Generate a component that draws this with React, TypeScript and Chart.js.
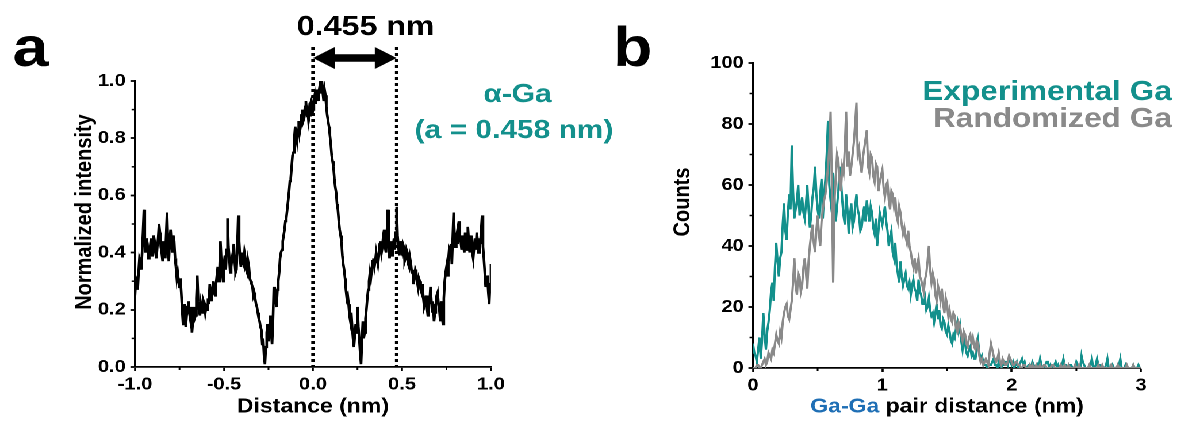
import { useEffect, useRef } from 'react';
import { Chart, registerables } from 'chart.js';

Chart.register(...registerables);

// ---- style constants ----
const STRETCH = 1.15;
const BASE_W = 1180 / STRETCH;
const FONT = '"Liberation Sans", Arial, Helvetica, sans-serif';
const TEAL = '#13908c';
const GRAY = '#8a8a8a';
const BLUE = '#1f6fb5';

// ---- panel a data: normalized intensity line profile ----
const PROFILE_X_START = -1;
const PROFILE_X_STEP = 0.005;
const PROFILE_Y = [
  0.25, 0.31, 0.30, 0.27, 0.33, 0.38, 0.37, 0.34, 0.40, 0.47, 0.55, 0.43, 0.40, 0.45, 0.43, 0.38, 0.39, 0.42, 0.45, 0.39,
  0.41, 0.46, 0.44, 0.40, 0.38, 0.42, 0.45, 0.50, 0.47, 0.42, 0.40, 0.37, 0.44, 0.41, 0.38, 0.46, 0.54, 0.43, 0.37, 0.44,
  0.48, 0.43, 0.40, 0.46, 0.44, 0.38, 0.35, 0.31, 0.33, 0.30, 0.28, 0.31, 0.26, 0.20, 0.15, 0.19, 0.22, 0.14, 0.18, 0.21,
  0.23, 0.19, 0.17, 0.21, 0.12, 0.16, 0.21, 0.17, 0.18, 0.24, 0.32, 0.23, 0.20, 0.18, 0.22, 0.20, 0.19, 0.23, 0.22, 0.19,
  0.21, 0.20, 0.24, 0.22, 0.29, 0.25, 0.23, 0.27, 0.30, 0.26, 0.25, 0.29, 0.32, 0.35, 0.30, 0.34, 0.44, 0.37, 0.33, 0.30,
  0.36, 0.39, 0.34, 0.41, 0.52, 0.42, 0.38, 0.33, 0.35, 0.38, 0.40, 0.43, 0.37, 0.33, 0.34, 0.42, 0.53, 0.44, 0.38, 0.35,
  0.40, 0.37, 0.36, 0.40, 0.38, 0.34, 0.33, 0.37, 0.35, 0.31, 0.30, 0.29, 0.28, 0.25, 0.26, 0.24, 0.22, 0.21, 0.19, 0.17,
  0.16, 0.14, 0.13, 0.08, 0.10, 0.04, 0.01, 0.07, 0.12, 0.15, 0.09, 0.13, 0.18, 0.12, 0.08, 0.16, 0.28, 0.24, 0.23, 0.21,
  0.27, 0.30, 0.33, 0.38, 0.40, 0.41, 0.44, 0.46, 0.48, 0.51, 0.52, 0.55, 0.58, 0.61, 0.65, 0.66, 0.70, 0.74, 0.75, 0.80,
  0.84, 0.81, 0.79, 0.83, 0.86, 0.82, 0.84, 0.88, 0.90, 0.86, 0.87, 0.91, 0.93, 0.89, 0.90, 0.86, 0.88, 0.92, 0.93, 0.88,
  0.90, 0.93, 0.95, 0.92, 0.97, 0.95, 0.93, 0.97, 0.99, 0.96, 1.00, 0.96, 0.93, 0.97, 0.95, 0.91, 0.88, 0.86, 0.84, 0.81,
  0.78, 0.74, 0.72, 0.70, 0.66, 0.63, 0.61, 0.57, 0.55, 0.51, 0.48, 0.46, 0.44, 0.39, 0.36, 0.34, 0.31, 0.27, 0.24, 0.25,
  0.22, 0.18, 0.16, 0.19, 0.14, 0.10, 0.07, 0.11, 0.15, 0.12, 0.21, 0.14, 0.10, 0.05, 0.01, 0.09, 0.16, 0.10, 0.12, 0.17,
  0.20, 0.24, 0.27, 0.30, 0.33, 0.31, 0.34, 0.37, 0.38, 0.35, 0.37, 0.40, 0.40, 0.36, 0.39, 0.43, 0.44, 0.40, 0.42, 0.46,
  0.48, 0.42, 0.40, 0.46, 0.55, 0.45, 0.38, 0.41, 0.44, 0.39, 0.42, 0.45, 0.41, 0.47, 0.56, 0.46, 0.42, 0.39, 0.44, 0.41,
  0.40, 0.43, 0.42, 0.37, 0.38, 0.41, 0.40, 0.36, 0.35, 0.38, 0.36, 0.33, 0.34, 0.29, 0.31, 0.34, 0.33, 0.30, 0.28, 0.31,
  0.30, 0.27, 0.26, 0.29, 0.24, 0.21, 0.22, 0.25, 0.21, 0.18, 0.25, 0.22, 0.28, 0.23, 0.19, 0.22, 0.16, 0.19, 0.22, 0.25,
  0.26, 0.22, 0.20, 0.16, 0.23, 0.18, 0.15, 0.24, 0.30, 0.33, 0.35, 0.32, 0.37, 0.41, 0.40, 0.43, 0.36, 0.45, 0.54, 0.46,
  0.42, 0.45, 0.47, 0.43, 0.51, 0.46, 0.44, 0.41, 0.46, 0.43, 0.40, 0.47, 0.44, 0.41, 0.49, 0.44, 0.40, 0.46, 0.43, 0.40,
  0.38, 0.42, 0.45, 0.41, 0.47, 0.44, 0.40, 0.45, 0.43, 0.48, 0.53, 0.42, 0.38, 0.33, 0.28, 0.30, 0.32, 0.26, 0.22, 0.29,
  0.36,
];
const MARK_LEFT = 0;
const MARK_RIGHT = 0.47;
const PROFILE_MINOR_X = [-0.75, -0.25, 0.25, 0.75];
const PROFILE_MINOR_Y = [0.1, 0.3, 0.5, 0.7, 0.9];

// ---- panel b data: Ga-Ga pair distance histograms ----
const PAIR_X_START = 0;
const PAIR_X_STEP = 0.01;
const EXPERIMENTAL_COUNTS = [
  8, 5, 4, 2, 6, 10, 3, 9, 18, 11, 6, 12, 15, 19, 25, 28, 22, 33, 41, 35,
  30, 36, 38, 47, 54, 45, 42, 51, 57, 52, 73, 58, 49, 52, 55, 60, 50, 53, 56, 51,
  49, 54, 60, 52, 46, 50, 56, 59, 66, 57, 52, 49, 57, 62, 49, 57, 62, 70, 81, 60,
  55, 51, 64, 56, 48, 53, 58, 66, 62, 55, 50, 47, 57, 52, 44, 50, 54, 46, 48, 53,
  57, 52, 50, 45, 46, 50, 53, 48, 55, 51, 48, 53, 51, 46, 44, 49, 40, 45, 51, 49,
  47, 50, 53, 48, 45, 40, 43, 45, 38, 36, 41, 34, 31, 28, 35, 30, 27, 29, 31, 27,
  26, 28, 24, 27, 29, 26, 25, 22, 29, 25, 24, 21, 21, 23, 19, 20, 23, 19, 17, 18,
  15, 18, 21, 16, 19, 14, 13, 16, 15, 12, 11, 14, 12, 9, 8, 11, 10, 13, 15, 12,
  14, 9, 6, 10, 8, 5, 4, 6, 7, 4, 5, 3, 3, 6, 9, 5, 3, 4, 2, 1,
  1, 0, 2, 1, 1, 2, 3, 1, 1, 0, 2, 1, 0, 1, 1, 2, 2, 1, 3, 2,
  1, 2, 0, 1, 2, 0, 1, 2, 3, 1, 2, 0, 0, 1, 1, 0, 2, 1, 0, 0,
  1, 0, 3, 1, 0, 0, 1, 2, 2, 0, 1, 0, 0, 1, 2, 0, 1, 0, 0, 1,
  3, 1, 1, 0, 0, 1, 1, 0, 0, 0, 2, 1, 0, 0, 4, 2, 1, 0, 0, 0,
  0, 1, 3, 0, 0, 1, 3, 1, 1, 0, 0, 0, 0, 1, 3, 0, 0, 0, 1, 0,
  0, 0, 0, 1, 3, 0, 0, 0, 1, 0, 0, 0, 0, 0, 1, 0, 0, 0, 1, 0,
  0,
];
const RANDOMIZED_COUNTS = [
  0, 0, 0, 1, 1, 0, 0, 1, 2, 3, 1, 2, 5, 4, 3, 6, 5, 8, 11, 9,
  8, 12, 10, 15, 18, 20, 21, 17, 16, 19, 22, 28, 36, 27, 24, 31, 30, 25, 27, 33,
  36, 31, 26, 35, 40, 44, 47, 41, 38, 45, 50, 44, 40, 48, 52, 55, 57, 61, 66, 72,
  84, 60, 28, 55, 62, 70, 68, 61, 58, 66, 64, 72, 84, 66, 71, 63, 66, 70, 74, 80,
  87, 70, 72, 67, 64, 69, 72, 75, 78, 66, 64, 70, 69, 63, 61, 67, 66, 58, 61, 63,
  65, 59, 56, 60, 61, 55, 52, 58, 57, 53, 56, 50, 48, 53, 51, 47, 44, 46, 43, 41,
  45, 40, 38, 35, 33, 36, 31, 34, 36, 30, 29, 27, 25, 29, 31, 35, 40, 32, 28, 31,
  29, 24, 22, 27, 25, 22, 26, 21, 18, 23, 21, 17, 19, 16, 15, 18, 17, 13, 12, 15,
  14, 11, 9, 12, 11, 8, 7, 10, 11, 8, 10, 7, 6, 9, 8, 4, 2, 3, 1, 2,
  3, 2, 1, 5, 8, 6, 4, 3, 2, 3, 5, 2, 1, 3, 2, 1, 1, 2, 4, 3,
  2, 1, 1, 2, 2, 1, 1, 0, 0, 1, 1, 0, 0, 0, 1, 0, 1, 0, 0, 1,
  0, 0, 1, 0, 0, 1, 1, 0, 0, 0, 0, 1, 1, 0, 0, 0, 0, 0, 1, 0,
  0, 1, 0, 0, 1, 0, 0, 0, 0, 1, 0, 0, 1, 0, 0, 0, 0, 0, 0, 0,
  1, 0, 0, 0, 0, 0, 0, 1, 0, 0, 1, 0, 0, 0, 0, 0, 0, 1, 0, 0,
  0, 0, 1, 0, 0, 0, 0, 0, 0, 1, 0, 0, 0, 0, 1, 0, 0, 0, 0, 0,
  0,
];
const PAIR_MINOR_X = [0.5, 1.5, 2.5];
const PAIR_MINOR_Y = [10, 30, 50, 70, 90];

const toPoints = (ys: number[], x0: number, step: number) =>
  ys.map((y, i) => ({ x: Math.round((x0 + i * step) * 1000) / 1000, y }));

// ---- layout (base coordinates, before horizontal stretch) ----
const A_W = 560;
const A_LEFT = 135 / STRETCH;
const A_RIGHT = 491 / STRETCH;
const A_TOP = 81;
const A_BOTTOM = 367;
const B_OFF = 500;
const B_W = BASE_W - B_OFF;
const B_LEFT = 753 / STRETCH - B_OFF;
const B_RIGHT = 1141 / STRETCH - B_OFF;
const B_TOP = 63;
const B_BOTTOM = 368;

const tickFont = { family: FONT, size: 17.5, weight: 'bold' as const };
const titleFont = { family: FONT, size: 20, weight: 'bold' as const };

function axisCommon() {
  return {
    grid: { display: true, drawOnChartArea: false, drawTicks: true, tickLength: 4, tickColor: '#000', tickWidth: 1.8 },
    border: { display: true, color: '#000', width: 1.8 },
  };
}

function minorTicks(xs: number[], ys: number[]) {
  return {
    id: 'minorTicks',
    afterDraw(chart: any) {
      const { ctx, scales, chartArea } = chart;
      ctx.save();
      ctx.strokeStyle = '#000';
      ctx.lineWidth = 1.5;
      xs.forEach((v) => {
        const px = scales.x.getPixelForValue(v);
        ctx.beginPath();
        ctx.moveTo(px, chartArea.bottom);
        ctx.lineTo(px, chartArea.bottom + 3);
        ctx.stroke();
      });
      ys.forEach((v) => {
        const py = scales.y.getPixelForValue(v);
        ctx.beginPath();
        ctx.moveTo(chartArea.left, py);
        ctx.lineTo(chartArea.left - 3, py);
        ctx.stroke();
      });
      ctx.restore();
    },
  };
}

function drawText(ctx: CanvasRenderingContext2D, s: string, x: number, y: number, size: number, color: string, align: CanvasTextAlign = 'left', baseline: CanvasTextBaseline = 'alphabetic') {
  ctx.font = `bold ${size}px ${FONT}`;
  ctx.fillStyle = color;
  ctx.textAlign = align;
  ctx.textBaseline = baseline;
  ctx.fillText(s, x, y);
}

function drawVertical(ctx: CanvasRenderingContext2D, s: string, cx: number, cy: number, size: number) {
  ctx.save();
  ctx.translate(cx, cy);
  ctx.rotate(-Math.PI / 2);
  drawText(ctx, s, 0, 0, size, '#000', 'center', 'middle');
  ctx.restore();
}

const annotA = {
  id: 'annotA',
  afterDraw(chart: any) {
    const { ctx, scales, chartArea } = chart;
    const x0 = scales.x.getPixelForValue(MARK_LEFT);
    const x1 = scales.x.getPixelForValue(MARK_RIGHT);
    ctx.save();
    ctx.strokeStyle = '#000';
    ctx.lineWidth = 3;
    ctx.setLineDash([3, 3]);
    [x0, x1].forEach((px) => {
      ctx.beginPath();
      ctx.moveTo(px, 47);
      ctx.lineTo(px, chartArea.bottom);
      ctx.stroke();
    });
    ctx.setLineDash([]);
    const ay = 58, hl = 19, hh = 11, st = 3.8;
    ctx.beginPath();
    ctx.moveTo(x0, ay);
    ctx.lineTo(x0 + hl, ay - hh);
    ctx.lineTo(x0 + hl, ay - st);
    ctx.lineTo(x1 - hl, ay - st);
    ctx.lineTo(x1 - hl, ay - hh);
    ctx.lineTo(x1, ay);
    ctx.lineTo(x1 - hl, ay + hh);
    ctx.lineTo(x1 - hl, ay + st);
    ctx.lineTo(x0 + hl, ay + st);
    ctx.lineTo(x0 + hl, ay + hh);
    ctx.closePath();
    ctx.fillStyle = '#000';
    ctx.fill();
    drawText(ctx, 'a', 11, 66, 56, '#000');
    drawText(ctx, '0.455 nm', 318, 35, 28, '#000', 'center');
    drawText(ctx, 'α-Ga', 450, 102, 26, TEAL, 'center');
    drawText(ctx, '(a = 0.458 nm)', 447, 138, 26, TEAL, 'center');
    drawVertical(ctx, 'Normalized intensity', 74, 212, 20);
    ctx.restore();
  },
};

const annotB = {
  id: 'annotB',
  afterDraw(chart: any) {
    const { ctx, chartArea } = chart;
    ctx.save();
    drawText(ctx, 'b', 33, 66, 56, '#000');
    drawText(ctx, 'Experimental Ga', 519, 100, 27.5, TEAL, 'right');
    drawText(ctx, 'Randomized Ga', 519, 127, 27.5, GRAY, 'right');
    drawVertical(ctx, 'Counts', 94, 202, 20);
    ctx.font = `bold 20px ${FONT}`;
    const p1 = 'Ga-Ga';
    const p2 = ' pair distance (nm)';
    const w1 = ctx.measureText(p1).width;
    const w2 = ctx.measureText(p2).width;
    const cx = (chartArea.left + chartArea.right) / 2;
    const sx = cx - (w1 + w2) / 2;
    drawText(ctx, p1, sx, 407, 20, BLUE, 'left', 'middle');
    drawText(ctx, p2, sx + w1, 407, 20, '#000', 'left', 'middle');
    ctx.restore();
  },
};

export default function App() {
  const aRef = useRef<HTMLCanvasElement>(null);
  const bRef = useRef<HTMLCanvasElement>(null);

  useEffect(() => {
    document.body.style.margin = '0';
    const chartA = new Chart(aRef.current!, {
      type: 'line',
      data: {
        datasets: [
          {
            label: 'Normalized intensity',
            data: toPoints(PROFILE_Y, PROFILE_X_START, PROFILE_X_STEP),
            borderColor: '#000',
            borderWidth: 2.3,
            pointRadius: 0,
            tension: 0,
            fill: false,
          },
        ],
      },
      options: {
        animation: false,
        responsive: true,
        maintainAspectRatio: false,
        devicePixelRatio: 2,
        events: [],
        layout: { padding: { left: 0, right: A_W - A_RIGHT, top: A_TOP, bottom: 0 } },
        plugins: { legend: { display: false }, tooltip: { enabled: false } },
        scales: {
          x: {
            type: 'linear',
            min: -1,
            max: 1,
            afterFit: (s: any) => { s.height = 423 - A_BOTTOM; },
            ticks: { stepSize: 0.5, autoSkip: false, maxRotation: 0, color: '#000', font: tickFont, padding: 3, callback: (v: any) => Number(v).toFixed(1) },
            ...axisCommon(),
            title: { display: true, text: 'Distance (nm)', color: '#000', font: titleFont, padding: { top: 0, bottom: 4 } },
          },
          y: {
            type: 'linear',
            min: 0,
            max: 1,
            afterFit: (s: any) => { s.width = A_LEFT; },
            ticks: { stepSize: 0.2, color: '#000', font: tickFont, padding: 4, callback: (v: any) => Number(v).toFixed(1) },
            ...axisCommon(),
            title: { display: false },
          },
        },
      },
      plugins: [minorTicks(PROFILE_MINOR_X, PROFILE_MINOR_Y), annotA],
    } as any);

    const chartB = new Chart(bRef.current!, {
      type: 'line',
      data: {
        datasets: [
          {
            label: 'Experimental Ga',
            data: toPoints(EXPERIMENTAL_COUNTS, PAIR_X_START, PAIR_X_STEP),
            borderColor: TEAL,
            borderWidth: 2,
            pointRadius: 0,
            tension: 0,
            fill: false,
            order: 1,
          },
          {
            label: 'Randomized Ga',
            data: toPoints(RANDOMIZED_COUNTS, PAIR_X_START, PAIR_X_STEP),
            borderColor: GRAY,
            borderWidth: 2,
            pointRadius: 0,
            tension: 0,
            fill: false,
            order: 0,
          },
        ],
      },
      options: {
        animation: false,
        responsive: true,
        maintainAspectRatio: false,
        devicePixelRatio: 2,
        events: [],
        layout: { padding: { left: 0, right: B_W - B_RIGHT, top: B_TOP, bottom: 0 } },
        plugins: { legend: { display: false }, tooltip: { enabled: false } },
        scales: {
          x: {
            type: 'linear',
            min: 0,
            max: 3,
            afterFit: (s: any) => { s.height = 423 - B_BOTTOM; },
            ticks: { stepSize: 1, autoSkip: false, maxRotation: 0, color: '#000', font: tickFont, padding: 3, callback: (v: any) => String(v) },
            ...axisCommon(),
            title: { display: false },
          },
          y: {
            type: 'linear',
            min: 0,
            max: 100,
            afterFit: (s: any) => { s.width = B_LEFT; },
            ticks: { stepSize: 20, color: '#000', font: tickFont, padding: 4, callback: (v: any) => String(v) },
            ...axisCommon(),
            title: { display: false },
          },
        },
      },
      plugins: [minorTicks(PAIR_MINOR_X, PAIR_MINOR_Y), annotB],
    } as any);

    return () => {
      chartA.destroy();
      chartB.destroy();
    };
  }, []);

  return (
    <div
      style={{
        position: 'fixed',
        left: 0,
        top: 0,
        width: BASE_W,
        height: 423,
        transform: `scaleX(${STRETCH})`,
        transformOrigin: '0 0',
        background: '#fff',
        overflow: 'hidden',
      }}
    >
      <div style={{ position: 'absolute', left: 0, top: 0, width: A_W, height: 423 }}>
        <canvas ref={aRef} />
      </div>
      <div style={{ position: 'absolute', left: B_OFF, top: 0, width: B_W, height: 423 }}>
        <canvas ref={bRef} />
      </div>
    </div>
  );
}
